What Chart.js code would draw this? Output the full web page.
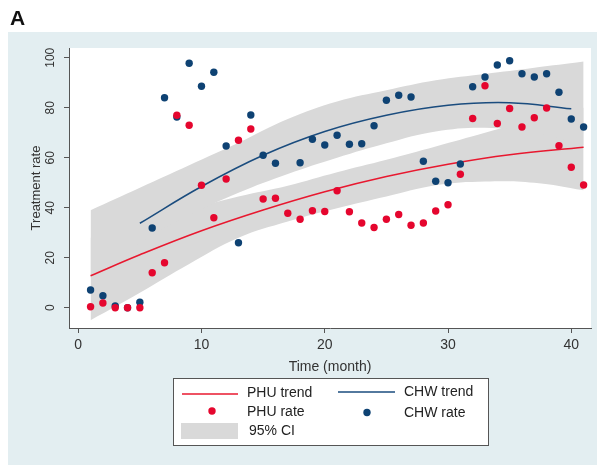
<!DOCTYPE html>
<html>
<head>
<meta charset="utf-8">
<script src="https://cdn.jsdelivr.net/npm/chart.js@4.4.1/dist/chart.umd.min.js"></script>
<style>
  html, body { margin: 0; padding: 0; background: #fff; }
  #wrap { position: relative; width: 601px; height: 465px; }
</style>
</head>
<body>
<div id="wrap"><canvas id="rateChart"></canvas></div>
<script>
// Monthly treatment rates
const months = [1, 2, 3, 4, 5, 6, 7, 8, 9, 10, 11, 12, 13, 14, 15, 16, 17, 18, 19, 20,
  21, 22, 23, 24, 25, 26, 27, 28, 29, 30, 31, 32, 33, 34, 35, 36, 37, 38, 39, 40, 41];
const phuRate = [0.4, 1.9, 0, 0, 0, 14, 18, 77, 73, 49, 36, 51.5, 67, 71.5, 43.5, 43.8, 37.8, 35.4, 38.8, 38.5,
  46.8, 38.4, 33.9, 32.1, 35.4, 37.3, 33, 33.9, 38.7, 41.2, 53.4, 75.7, 88.8, 73.7, 79.7, 72.3, 76, 79.9, 64.8, 56.2, 49.1];
const chwRate = [7.1, 4.8, 0.7, 0, 2.2, 31.9, 84, 76.3, 97.8, 88.6, 94.2, 64.7, 26, 77.1, 61, 57.8, null, 58, 67.4, 65.1,
  69, 65.4, 65.6, 72.8, 83, 85, 84.3, 58.6, 50.6, 50, 57.5, 88.4, 92.3, 97.1, 98.8, 93.6, 92.3, 93.6, 86.2, 75.5, 72.3];

// Fitted trends
const phuTrendMonths = [1, 5, 10, 15, 20, 25, 30, 35, 41];
const phuTrend = [12.8, 21.2, 30.8, 39.1, 46.4, 52.5, 57.4, 61.2, 64.2];
const chwTrendMonths = [5, 10, 15, 20, 25, 30, 35, 40];
const chwTrend = [33.8, 48.5, 61, 70.5, 77, 81, 82, 79.6];

// 95% confidence bands
const ciMonths = [1, 5, 9, 13, 17, 21, 25, 29, 33, 37, 41];
const phuUpper = [28, 34.5, 39.5, 44.5, 48.8, 54.2, 59.2, 64.5, 70, 75.5, 80];
const phuLower = [-5, 6, 17.5, 28, 34.5, 39.8, 44.5, 49, 50.5, 50, 47];
const chwUpper = [39, 48, 57, 66, 75.5, 82.5, 87, 91, 93.5, 96, 98.5];
const chwLower = [12, 26, 37, 46, 53.5, 60, 65.8, 70.5, 72, 70, 65];

const xTicks = [0, 10, 20, 30, 40];
const yTicks = [0, 20, 40, 60, 80, 100];

const RED = "#e5062e";
const BLUE = "#0e4273";
const RED_LINE = "#e8182f";
const BLUE_LINE = "#1a4c7e";
const CI_GRAY = "#d9d9d9";
const PANEL = "#e3eef1";
const AXIS = "#555555";
const FONT = "'Liberation Sans', Arial, sans-serif";

function pts(xs, ys) {
  return xs.map((x, i) => ({ x: x, y: ys[i] }));
}

function band(data, fill) {
  return {
    data: data,
    borderWidth: 0,
    pointRadius: 0,
    backgroundColor: CI_GRAY,
    fill: fill,
    tension: 0.4,
  };
}

// background: white top strip, light panel, white plot area
const panelPlugin = {
  id: "panel",
  beforeDraw(chart) {
    const { ctx, chartArea: a } = chart;
    ctx.save();
    ctx.fillStyle = "#ffffff";
    ctx.fillRect(0, 0, chart.width, chart.height);
    ctx.fillStyle = PANEL;
    ctx.fillRect(8, 32, 589, chart.height - 32);
    ctx.fillStyle = "#ffffff";
    ctx.fillRect(a.left, a.top, a.right - a.left, a.bottom - a.top);
    ctx.restore();
  },
};

// panel letter, rotated y labels, axis titles, legend
const textPlugin = {
  id: "texts",
  afterDraw(chart) {
    const { ctx, chartArea: a } = chart;
    const yScale = chart.scales.y;
    ctx.save();
    ctx.fillStyle = "#111";
    ctx.font = "bold 21px " + FONT;
    ctx.textAlign = "left";
    ctx.textBaseline = "alphabetic";
    ctx.fillText("A", 10, 25);

    ctx.fillStyle = "#333";
    ctx.font = "12px " + FONT;
    ctx.textAlign = "center";
    ctx.textBaseline = "middle";
    yTicks.forEach((v) => {
      ctx.save();
      ctx.translate(51, yScale.getPixelForValue(v));
      ctx.rotate(-Math.PI / 2);
      ctx.fillText(String(v), 0, 0);
      ctx.restore();
    });

    ctx.font = "13px " + FONT;
    ctx.save();
    ctx.translate(36, (a.top + a.bottom) / 2);
    ctx.rotate(-Math.PI / 2);
    ctx.fillText("Treatment rate", 0, 0);
    ctx.restore();

    ctx.font = "14px " + FONT;
    ctx.fillText("Time (month)", (a.left + a.right) / 2, 367);

    // legend
    ctx.fillStyle = "#ffffff";
    ctx.fillRect(173, 378, 315, 67);
    ctx.strokeStyle = AXIS;
    ctx.lineWidth = 1;
    ctx.strokeRect(173.5, 378.5, 315, 67);

    ctx.lineWidth = 1.5;
    ctx.strokeStyle = RED_LINE;
    ctx.beginPath(); ctx.moveTo(182, 394); ctx.lineTo(238, 394); ctx.stroke();
    ctx.strokeStyle = BLUE_LINE;
    ctx.beginPath(); ctx.moveTo(338, 392); ctx.lineTo(395, 392); ctx.stroke();

    ctx.fillStyle = RED;
    ctx.beginPath(); ctx.arc(212, 411, 3.7, 0, Math.PI * 2); ctx.fill();
    ctx.fillStyle = BLUE;
    ctx.beginPath(); ctx.arc(367, 412.5, 3.7, 0, Math.PI * 2); ctx.fill();

    ctx.fillStyle = CI_GRAY;
    ctx.fillRect(181, 423, 57, 16);

    ctx.fillStyle = "#222";
    ctx.textAlign = "left";
    ctx.fillText("PHU trend", 247, 393);
    ctx.fillText("PHU rate", 247, 412);
    ctx.fillText("95% CI", 249, 431);
    ctx.fillText("CHW trend", 404, 392);
    ctx.fillText("CHW rate", 404, 413);
    ctx.restore();
  },
};

new Chart(document.getElementById("rateChart"), {
  type: "line",
  data: {
    datasets: [
      {
        label: "PHU rate",
        data: pts(months, phuRate),
        showLine: false,
        pointRadius: 3.7,
        pointBorderWidth: 0,
        pointBackgroundColor: RED,
      },
      {
        label: "CHW rate",
        data: pts(months, chwRate),
        showLine: false,
        pointRadius: 3.7,
        pointBorderWidth: 0,
        pointBackgroundColor: BLUE,
      },
      {
        label: "PHU trend",
        data: pts(phuTrendMonths, phuTrend),
        borderColor: RED_LINE,
        borderWidth: 1.5,
        pointRadius: 0,
        tension: 0.4,
        fill: false,
      },
      {
        label: "CHW trend",
        data: pts(chwTrendMonths, chwTrend),
        borderColor: BLUE_LINE,
        borderWidth: 1.5,
        pointRadius: 0,
        tension: 0.4,
        fill: false,
      },
      band(pts(ciMonths, chwUpper), "+1"),
      band(pts(ciMonths, chwLower), false),
      band(pts(ciMonths, phuUpper), "+1"),
      band(pts(ciMonths, phuLower), false),
    ],
  },
  options: {
    responsive: true,
    maintainAspectRatio: false,
    animation: false,
    events: [],
    layout: { padding: { left: 0, top: 48, right: 10, bottom: 0 } },
    plugins: {
      legend: { display: false },
      tooltip: { enabled: false },
      filler: { drawTime: "beforeDatasetsDraw" },
    },
    scales: {
      x: {
        type: "linear",
        min: -0.75,
        max: 41.6,
        afterBuildTicks: (s) => { s.ticks = xTicks.map((v) => ({ value: v })); },
        afterFit: (s) => { s.height = 137; },
        grid: { drawOnChartArea: false, drawTicks: true, tickLength: 5, color: AXIS },
        border: { display: true, color: AXIS, width: 1 },
        ticks: { color: "#333", font: { family: FONT, size: 14 }, padding: 4, maxRotation: 0 },
      },
      y: {
        type: "linear",
        min: -8.1,
        max: 103.9,
        afterBuildTicks: (s) => { s.ticks = yTicks.map((v) => ({ value: v })); },
        afterFit: (s) => { s.width = 69; },
        grid: { drawOnChartArea: false, drawTicks: true, tickLength: 5, color: AXIS },
        border: { display: true, color: AXIS, width: 1 },
        ticks: { display: false },
      },
    },
  },
  plugins: [panelPlugin, textPlugin],
});
</script>
</body>
</html>
